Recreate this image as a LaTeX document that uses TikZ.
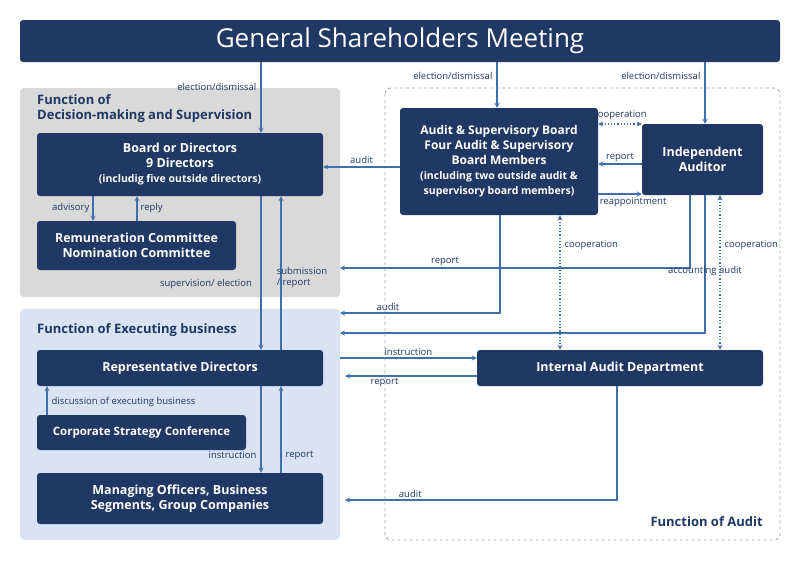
\documentclass[tikz,border=0pt]{standalone}
\usepackage{fontspec}
\setmainfont{Open Sans}
\usetikzlibrary{positioning}
\definecolor{navy}{RGB}{31,56,100}
\definecolor{arrowblue}{RGB}{64,112,168}
\definecolor{greyfill}{RGB}{217,217,217}
\definecolor{bluefill}{RGB}{218,227,243}
\definecolor{dashgrey}{RGB}{165,165,165}
\begin{document}
\begin{tikzpicture}[x=1pt, y=-1pt, >=stealth,
    box/.style={fill=navy, text=white, rounded corners=3pt, align=center, inner sep=0pt,
                font=\fontsize{12.5}{15}\selectfont\bfseries},
    arr/.style={->, arrowblue, line width=1.2pt},
    coop/.style={<->, arrowblue, line width=1.2pt, dotted},
    lbl/.style={font=\fontsize{9.5}{11}\selectfont, text=navy, inner sep=1pt},
    areatitle/.style={font=\fontsize{13}{15}\selectfont\bfseries, text=navy, align=left, anchor=north west, inner sep=0pt}]
    \useasboundingbox (0,0) rectangle (800,560);

    % Areas
    \fill[greyfill, rounded corners=4pt] (20,88) rectangle (340,297);
    \fill[bluefill, rounded corners=4pt] (20,309) rectangle (340,540);
    \draw[dashgrey, dashed, line width=0.9pt, rounded corners=6pt] (385,88) rectangle (780,540);
    \node[areatitle] (tdec) at (37,94) {Function of\\Decision-making and Supervision};
    \node[areatitle] (texe) at (37,323) {Function of Executing business};
    \node[areatitle, anchor=south east] (taud) at (763,527) {Function of Audit};

    % Boxes
    \node[box, minimum width=760pt, minimum height=42pt, font=\fontsize{26}{30}\selectfont] (gsm) at (400,41) {General Shareholders Meeting};
    \node[box, minimum width=286pt, minimum height=63pt] (board) at (180,164.5)
        {Board or Directors\\9 Directors\\{\fontsize{10.5}{13}\selectfont (includig five outside directors)}};
    \node[box, minimum width=199pt, minimum height=49pt] (rem) at (136.5,245.5)
        {Remuneration Committee\\Nomination Committee};
    \node[box, minimum width=198pt, minimum height=107pt, font=\fontsize{12}{15}\selectfont\bfseries] (asb) at (499,161.5)
        {Audit \& Supervisory Board\\Four Audit \& Supervisory\\Board Members\\{\fontsize{10.5}{13}\selectfont (including two outside audit \&}\\{\fontsize{10.5}{13}\selectfont supervisory board members)}};
    \node[box, minimum width=121pt, minimum height=71pt] (auditor) at (702.5,159.5) {Independent\\Auditor};
    \node[box, minimum width=286pt, minimum height=36pt] (rep) at (180,368) {Representative Directors};
    \node[box, minimum width=209pt, minimum height=35pt, font=\fontsize{11.5}{14}\selectfont\bfseries] (csc) at (141.5,432.5) {Corporate Strategy Conference};
    \node[box, minimum width=286pt, minimum height=51pt] (mo) at (180,498.5)
        {Managing Officers, Business\\Segments, Group Companies};
    \node[box, minimum width=286pt, minimum height=36pt] (iad) at (620,368) {Internal Audit Department};

    % Free ends at the area edges
    \coordinate (e268) at (340,268);
    \coordinate (e313) at (340,313);
    \coordinate (e333) at (340,333);
    \coordinate (e500) at (345,500);

    % Shareholders meeting
    \draw[arr] (gsm.south -| 261,0) -- (board.north -| 261,0) node[lbl, pos=0.35, left=3pt] {election/dismissal};
    \draw[arr] (gsm.south -| 497,0) -- (asb.north -| 497,0) node[lbl, pos=0.3, left=3pt] {election/dismissal};
    \draw[arr] (gsm.south -| 705,0) -- (auditor.north -| 705,0) node[lbl, pos=0.22, left=3pt] {election/dismissal};

    % Decision-making and supervision
    \draw[arr] (board.south -| 93,0) -- (rem.north -| 93,0) node[lbl, midway, left=2pt] {advisory};
    \draw[arr] (rem.north -| 137,0) -- (board.south -| 137,0) node[lbl, midway, right=2pt] {reply};
    \draw[arr] (board.south -| 261,0) -- (rep.north -| 261,0);
    \node[lbl] (supl) at (206,284) {supervision/ election};
    \draw[arr] (rep.north -| 281,0) -- (board.south -| 281,0);
    \node[lbl, align=left] (subl) at (302,278) {submission\\/ report};

    % Audit
    \draw[arr] (asb.west |- 0,167) -- (board.east |- 0,167) node[lbl, midway, above=2pt] {audit};
    \draw[coop] (asb.east |- 0,124) -- (auditor.west |- 0,124) node[lbl, midway, above=3pt] {cooperation};
    \draw[arr] (auditor.west |- 0,164) -- (asb.east |- 0,164) node[lbl, midway, above=1pt] {report};
    \draw[arr] (asb.east |- 0,194) -- (auditor.west |- 0,194) node[lbl, pos=0.8, below=2pt] {reappointment};
    \draw[arr] (auditor.south -| 690,0) |- (e268) node[lbl, pos=0.85, above=1pt] {report};
    \draw[arr] (asb.south -| 500,0) |- (e313) node[lbl, pos=0.85, above=1pt] {audit};
    \draw[arr] (auditor.south -| 705,0) |- (e333) node[lbl, pos=0.3, above=1pt] {accounting audit};
    \draw[coop] (asb.south -| 560,0) -- (iad.north -| 560,0) node[lbl, pos=0.22, right=3pt] {cooperation};
    \draw[coop] (auditor.south -| 720,0) -- (iad.north -| 720,0) node[lbl, pos=0.32, right=3pt] {cooperation};

    % Executing business
    \draw[arr] (340,358) -- (iad.west |- 0,358) node[lbl, midway, above=1pt] {instruction};
    \draw[arr] (iad.west |- 0,376) -- (345,376) node[lbl, pos=0.7, below=1pt] {report};
    \draw[arr] (csc.north -| 47,0) -- (rep.south -| 47,0) node[lbl, pos=0.45, right=3pt] {discussion of executing business};
    \draw[arr] (rep.south -| 261,0) -- (mo.north -| 261,0) node[lbl, pos=0.8, left=3pt] {instruction};
    \draw[arr] (mo.north -| 281,0) -- (rep.south -| 281,0) node[lbl, pos=0.2, right=3pt] {report};
    \draw[arr] (iad.south -| 617,0) |- (e500) node[lbl, pos=0.88, above=1pt] {audit};
\end{tikzpicture}
\end{document}
